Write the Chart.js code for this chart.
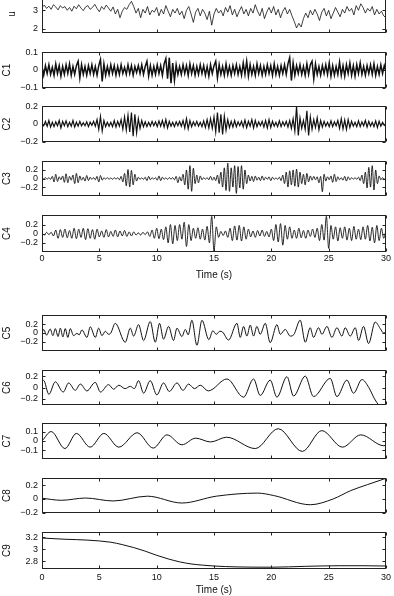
<!DOCTYPE html>
<html>
<head>
<meta charset="utf-8">
<script src="https://cdn.jsdelivr.net/npm/chart.js@4.4.1/dist/chart.umd.min.js"></script>
<style>
  body { margin:0; background:#fff; width:394px; height:596px; overflow:hidden; position:relative; }
  .panel { position:absolute; left:0; }
</style>
</head>
<body>
<script>
// DATA
const timeTicks = [0, 5, 10, 15, 20, 25, 30];

// u : raw signal, one value every 0.2 s
const uStep = 0.2;
const uVals = [
  3.15,3.28,3.10,3.22,3.05,3.30,3.18,3.02,3.25,3.12,
  3.20,3.00,3.15,2.95,3.22,3.08,3.30,3.12,2.98,3.18,
  3.25,3.05,3.15,3.32,3.10,2.92,3.20,3.05,3.28,3.12,
  2.95,3.18,2.80,3.05,2.60,2.95,3.15,3.05,3.30,3.48,
  3.20,2.85,3.10,2.60,3.05,2.85,3.20,2.75,3.00,2.90,
  3.15,2.70,3.05,2.80,3.25,2.95,2.65,3.05,2.85,3.10,
  2.75,2.95,2.55,3.00,3.20,2.80,2.35,2.90,3.10,2.70,
  3.05,2.85,2.50,2.95,2.20,2.80,3.10,2.85,3.00,2.70,
  3.15,2.90,3.25,2.75,3.05,2.65,2.95,3.20,2.80,3.05,
  2.70,3.10,2.85,3.30,2.95,2.70,3.10,2.55,2.90,3.15,
  2.85,3.20,2.75,3.05,2.60,2.95,3.15,2.80,3.05,2.70,
  2.40,2.05,2.30,2.10,2.55,2.85,2.60,3.00,2.75,3.05,
  2.80,2.45,2.90,3.10,2.70,3.00,2.55,2.85,3.15,2.90,
  2.65,3.05,2.85,3.20,2.95,3.10,2.75,3.25,3.00,3.35,
  3.15,2.85,3.10,2.95,3.20,2.75,3.05,2.80,2.95,2.70,2.60
];

// C1, C2, C3 : one value every 0.15 s
const fastStep = 0.15;
const c1Vals = [
  .02,-.03,.025,-.02,.03,-.025,.015,-.03,.035,-.02,.025,-.035,.02,-.025,.03,-.02,.035,-.03,.02,-.025,
  .025,.05,-.045,.03,-.025,.02,-.03,.025,-.02,.03,-.025,.02,-.03,.025,.06,-.065,.035,-.03,.02,-.025,
  .03,-.02,.025,-.03,.02,-.025,.03,-.02,.015,-.025,.03,-.02,.025,-.03,.02,-.015,.025,-.02,.03,-.025,
  .02,.05,-.035,.025,-.03,.02,-.025,.03,-.02,.025,-.03,.035,.065,-.05,.07,-.075,.04,-.06,.03,-.025,
  .02,-.025,.03,-.02,.025,-.03,.035,-.02,.025,-.03,.02,-.025,.03,-.02,.025,-.03,.02,-.035,.03,-.02,
  .025,.05,-.045,.03,-.025,.02,-.03,.035,-.025,.02,-.03,.025,-.02,.03,-.025,.02,-.03,.04,-.025,.05,
  -.035,.03,-.025,.02,-.03,.035,-.02,.025,-.03,.02,-.025,.03,-.02,.025,-.03,.035,-.025,.02,-.03,.025,
  -.02,.03,-.025,.035,.07,-.06,.04,-.03,.025,-.02,.03,-.025,.02,-.03,.035,-.025,.03,.05,-.05,.035,
  -.025,.02,-.03,.025,-.02,.03,-.025,.04,-.035,.025,-.03,.02,-.025,.045,-.03,.025,-.035,.03,-.02,.04,
  -.03,.025,-.035,.03,-.02,.04,-.025,.02,-.03,.025,-.02,.03,-.025,.035,-.03,.02,-.025,.03,-.02,.025,
  -.01
];
const c2Vals = [
  .01,-.02,.03,-.025,.04,-.035,.02,-.03,.025,-.02,.04,-.045,.03,-.02,.035,-.03,.02,-.025,.04,-.035,
  .02,-.025,.03,-.02,.015,-.02,.025,-.03,.02,-.015,.03,-.025,.05,-.06,.085,-.08,.04,-.03,.02,-.025,
  .02,-.03,.04,-.035,.03,-.025,.05,-.06,.08,-.07,.1,-.09,.13,-.14,.11,-.1,.06,-.05,.04,-.03,
  .025,-.03,.02,-.025,.03,-.02,.025,-.03,.035,-.025,.04,-.035,.05,-.045,.03,-.025,.02,-.03,.025,-.02,
  .03,-.025,.04,-.045,.06,-.055,.04,-.03,.025,-.02,.03,-.025,.02,-.03,.035,-.04,.05,-.045,.06,-.05,
  .08,-.09,.13,-.1,.11,-.12,.09,-.07,.05,-.04,.03,-.035,.04,-.03,.025,-.02,.03,-.035,.045,-.04,
  .03,-.025,.05,-.045,.04,-.03,.025,-.02,.03,-.035,.04,-.045,.05,-.04,.03,-.025,.02,-.03,.035,-.03,
  .025,-.02,.03,-.035,.04,-.05,.06,-.08,.2,-.13,.07,-.05,.04,-.06,.15,-.13,.08,-.06,.05,-.04,
  .07,-.065,.04,-.035,.03,-.025,.02,-.03,.035,-.03,.025,-.02,.04,-.05,.06,-.055,.045,-.06,.05,-.04,
  .03,-.025,.02,-.03,.035,-.03,.025,-.02,.04,-.035,.03,-.025,.02,-.03,.035,-.04,.03,-.025,.02,-.015,
  .01
];
const c3Vals = [
  .01,-.01,.02,-.015,.02,-.02,.05,-.08,.1,-.07,.04,-.03,.06,-.09,.11,-.1,.05,-.04,.08,-.12,
  .12,-.1,.06,-.04,.03,-.06,.07,-.05,.03,-.02,.02,-.03,.05,-.08,.07,-.04,.02,-.015,.02,-.02,
  .015,-.02,.02,-.015,.02,-.03,.05,-.08,.12,-.17,.21,-.2,.19,-.15,.1,-.06,.03,-.02,.015,-.02,
  .03,-.05,.05,-.03,.02,-.015,.02,-.04,.06,-.05,.03,-.02,.015,-.02,.02,-.015,.02,-.03,.05,-.1,
  .04,-.06,.1,-.15,.2,-.25,.3,-.3,.24,-.12,.08,-.1,.06,-.03,.02,-.015,.02,-.03,.05,-.04,
  .03,-.05,.08,-.12,.15,-.2,.25,-.28,.36,-.3,.25,-.2,.3,-.35,.28,-.22,.3,-.25,.2,-.12,
  .08,-.06,.05,-.07,.06,-.04,.03,-.05,.06,-.04,.03,-.02,.04,-.05,.03,-.02,.015,-.02,.03,-.05,
  .08,-.12,.15,-.2,.18,-.15,.2,-.18,.22,-.2,.15,-.12,.1,-.15,.12,-.08,.06,-.04,.05,-.03,
  .04,-.1,.05,-.31,.1,-.06,.04,-.03,.06,-.09,.1,-.07,.04,-.03,.02,-.04,.05,-.06,.04,-.03,
  .02,-.015,.02,-.02,.03,-.05,.08,-.12,.15,-.22,.26,-.2,.3,-.27,.2,-.12,.06,-.03,.02,-.015,
  .01
];

// C4 : one extremum every 0.2 s
const c4Step = 0.2;
const c4Vals = [
  .02,-.03,.03,-.02,.03,-.05,.08,-.1,.09,-.08,.1,-.09,.07,-.1,.12,-.11,.1,-.08,.12,-.13,
  .11,-.1,.09,-.12,.1,-.07,.06,-.08,.09,-.07,.05,-.06,.08,-.07,.06,-.05,.07,-.06,.04,-.05,
  .04,-.03,.02,-.03,.03,-.02,.04,-.06,.08,-.1,.12,-.11,.1,-.13,.15,-.2,.2,-.22,.18,-.15,
  .2,-.12,.25,-.28,.2,-.15,.12,-.1,.13,-.12,.1,-.14,.16,-.2,.38,-.38,.15,-.08,.05,-.04,
  .06,-.08,.12,-.15,.17,-.14,.18,-.16,.15,-.12,.1,-.07,.06,-.08,.07,-.05,.08,-.06,.05,-.07,
  .1,-.15,.2,-.18,.22,-.25,.18,-.12,.15,-.1,.08,-.1,.12,-.09,.07,-.1,.08,-.06,.1,-.08,
  .12,-.15,.2,-.14,.38,-.32,.18,-.12,.15,-.16,.13,-.1,.15,-.14,.12,-.15,.16,-.12,.1,-.13,
  .15,-.12,.18,-.16,.14,-.2,.18,-.15,.12,-.1,.08
];

// C5..C9 : [time, value] at turning points
const c5Pts = [
  [0,0],[0.15,0.08],[0.4,-0.05],[0.72,0.09],[0.95,-0.06],[1.16,0.1],[1.4,-0.08],[1.6,0.11],
  [1.82,-0.09],[2.03,0.1],[2.25,-0.1],[2.47,0.1],[2.75,-0.06],[3.05,-0.01],[3.25,-0.04],[3.48,0.07],
  [3.92,-0.1],[4.21,0.14],[4.65,-0.1],[4.94,0.11],[5.23,-0.06],[5.52,0.04],[5.81,-0.03],[6.0,0],
  [6.39,0.22],[7.26,-0.21],[7.7,0.11],[7.99,-0.07],[8.42,0.19],[8.86,-0.17],[9.44,0.26],[9.88,-0.21],
  [10.25,0.22],[10.6,-0.14],[11.04,0.15],[11.47,-0.17],[11.77,0.11],[12.2,-0.08],[12.5,0.08],[12.75,-0.04],
  [13.07,0.29],[13.51,-0.28],[13.95,0.29],[14.55,-0.15],[14.9,0.05],[15.2,-0.03],[15.5,0.04],[15.75,0.02],
  [16.27,-0.16],[17.0,0.22],[17.29,-0.1],[17.58,0.15],[17.87,-0.07],[18.16,0.18],[18.45,-0.07],[18.74,0.15],
  [19.03,-0.03],[19.47,0.22],[19.9,-0.22],[20.49,0.19],[20.78,-0.03],[21.21,0.08],[21.65,-0.07],[21.95,-0.04],
  [22.52,0.29],[22.96,-0.21],[23.39,0.12],[23.68,-0.1],[24.12,0.12],[24.41,-0.03],[24.85,0.15],[25.28,-0.1],
  [25.72,0.12],[26.15,-0.07],[26.44,0.12],[26.88,-0.07],[27.32,0.12],[27.61,-0.17],[28.04,0.15],[28.48,-0.24],
  [29.06,0.25],[29.5,0.1],[29.79,0],[30,0.02]
];
const c6Pts = [
  [0,0.12],[0.14,0.125],[0.6,-0.12],[1.16,0.1],[1.85,-0.08],[2.32,0.08],[2.9,-0.05],[3.34,0.06],
  [3.92,-0.06],[4.64,0.09],[5.1,-0.08],[5.8,0.05],[6.25,-0.03],[6.7,0.04],[7.25,-0.02],[7.7,0.02],
  [8.05,-0.02],[8.42,0.12],[8.86,-0.1],[9.44,0.12],[10.02,-0.13],[10.6,0.08],[11.1,-0.07],[11.77,0.08],
  [12.3,-0.05],[12.78,0.06],[13.3,-0.02],[13.8,0.04],[14.5,-0.06],[16.13,0.15],[17.58,-0.17],[18.45,0.15],
  [19.03,-0.14],[19.9,0.13],[20.49,-0.17],[21.36,0.19],[21.94,-0.15],[22.96,0.2],[23.68,-0.16],[25.14,0.16],
  [25.72,-0.16],[26.59,0.13],[27.17,-0.1],[27.9,0.14],[28.5,0],[29.0,-0.2],[29.4,-0.32],[30,-0.5]
];
const c7Pts = [
  [0,0],[0.8,0.1],[2.0,-0.08],[3.0,0.08],[4.2,-0.065],[5.4,0.08],[6.7,-0.065],[8.3,0.087],
  [9.7,-0.075],[10.9,0.065],[12.2,-0.04],[13.4,0.03],[14.7,-0.01],[16.1,0.04],[18.6,-0.08],[20.6,0.13],
  [22.7,-0.11],[24.4,0.11],[26.2,-0.065],[27.8,0.065],[29.8,-0.05],[30,-0.048]
];
const c8Pts = [
  [0,0.01],[1.7,-0.02],[3.8,0.013],[6.2,-0.03],[9.2,0.04],[12.2,-0.06],[15.2,0.04],[18.8,0.085],
  [20.2,0.05],[23.4,-0.085],[25.4,0],[26.9,0.12],[28.4,0.21],[29.8,0.29],[30,0.3]
];
const c9Pts = [
  [0,3.19],[2,3.17],[4,3.155],[6,3.12],[7,3.08],[8,3.03],[9,2.97],[10,2.9],[11,2.84],[12,2.79],
  [13,2.755],[14,2.735],[15,2.72],[17,2.705],[20,2.7],[23,2.715],[26,2.725],[28,2.725],[30,2.72]
];

// helpers to turn arrays into points
function series(vals, dt) {
  return vals.map((v, i) => ({ x: +(i * dt).toFixed(3), y: v }));
}
function pairs(list) {
  return list.map(p => ({ x: p[0], y: p[1] }));
}

// PANEL LAYOUT
const panels = [
  { label:'u',  top:-6,  bottom:34,  min:1.8,   max:3.8,   yTicks:[2,3],            pts:series(uVals, uStep),     smooth:false, lw:0.8, tpad:6 },
  { label:'C1', top:51,  bottom:89,  min:-0.1,  max:0.1,   yTicks:[-0.1,0,0.1],     pts:series(c1Vals, fastStep), smooth:false, lw:1.5, tpad:1 },
  { label:'C2', top:105, bottom:143, min:-0.2,  max:0.2,   yTicks:[-0.2,0,0.2],     pts:series(c2Vals, fastStep), smooth:false, lw:1.2, tpad:1 },
  { label:'C3', top:160, bottom:197, min:-0.4,  max:0.4,   yTicks:[-0.2,0,0.2],     pts:series(c3Vals, fastStep), smooth:true,  lw:0.9, tpad:1 },
  { label:'C4', top:214, bottom:252, min:-0.4,  max:0.4,   yTicks:[-0.2,0,0.2],     pts:series(c4Vals, c4Step),   smooth:true,  lw:0.9, tpad:1, xAxis:{h:30, pad:1} },
  { label:'C5', top:314, bottom:352, min:-0.4,  max:0.4,   yTicks:[-0.2,0,0.2],     pts:pairs(c5Pts),             smooth:true,  lw:1,   tpad:1 },
  { label:'C6', top:369, bottom:406, min:-0.3,  max:0.3,   yTicks:[-0.2,0,0.2],     pts:pairs(c6Pts),             smooth:true,  lw:1,   tpad:1 },
  { label:'C7', top:422, bottom:460, min:-0.186,max:0.186, yTicks:[-0.1,0,0.1],     pts:pairs(c7Pts),             smooth:true,  lw:1,   tpad:1 },
  { label:'C8', top:477, bottom:514, min:-0.2,  max:0.3,   yTicks:[-0.2,0,0.2],     pts:pairs(c8Pts),             smooth:true,  lw:1,   tpad:1 },
  { label:'C9', top:531, bottom:569, min:2.67,  max:3.285, yTicks:[2.8,3,3.2],      pts:pairs(c9Pts),             smooth:true,  lw:1,   tpad:1, xAxis:{h:28, pad:3} }
];

const FONT = "'Liberation Sans', Arial, Helvetica, sans-serif";
const INK = '#111';

// box + inward tick marks, matlab style
const framePlugin = {
  id: 'frame',
  afterDraw(chart) {
    const { ctx, chartArea: a, scales } = chart;
    const L = Math.round(a.left) + 0.5, R = Math.round(a.right) - 0.5;
    const T = Math.round(a.top) + 0.5, B = Math.round(a.bottom) - 0.5;
    ctx.save();
    ctx.strokeStyle = '#222';
    ctx.lineWidth = 1;
    ctx.strokeRect(L, T, R - L, B - T);
    ctx.beginPath();
    for (const t of timeTicks) {
      const x = Math.round(scales.x.getPixelForValue(t)) + 0.5;
      ctx.moveTo(x, B); ctx.lineTo(x, B - 3);
      ctx.moveTo(x, T); ctx.lineTo(x, T + 3);
    }
    for (const v of chart.options.yTickList) {
      const y = Math.round(scales.y.getPixelForValue(v)) + 0.5;
      ctx.moveTo(L, y); ctx.lineTo(L + 3, y);
      ctx.moveTo(R, y); ctx.lineTo(R - 3, y);
    }
    ctx.stroke();
    ctx.restore();
  }
};

function fmt(v) {
  const s = String(+v.toFixed(2));
  return s.replace('-', '\u2212');
}

function makePanel(p) {
  const padTop = 8;
  const xh = p.xAxis ? p.xAxis.h : 0;
  const padBottom = p.xAxis ? 2 : 8;
  const height = padTop + (p.bottom - p.top) + xh + padBottom;

  const div = document.createElement('div');
  div.className = 'panel';
  div.style.top = (p.top - padTop) + 'px';
  const can = document.createElement('canvas');
  can.width = 394; can.height = height;
  can.style.width = '394px'; can.style.height = height + 'px';
  div.appendChild(can);
  document.body.appendChild(div);

  new Chart(can.getContext('2d'), {
    type: 'line',
    data: {
      datasets: [{
        data: p.pts,
        borderColor: INK,
        borderWidth: p.lw,
        pointRadius: 0,
        fill: false,
        tension: 0,
        cubicInterpolationMode: p.smooth ? 'monotone' : 'default'
      }]
    },
    options: {
      responsive: false,
      animation: false,
      devicePixelRatio: 1,
      yTickList: p.yTicks,
      layout: { padding: { top: padTop, right: 8, bottom: padBottom, left: 0 } },
      plugins: { legend: { display: false }, tooltip: { enabled: false } },
      scales: {
        x: {
          type: 'linear', min: 0, max: 30,
          display: !!p.xAxis,
          afterBuildTicks: s => { s.ticks = timeTicks.map(v => ({ value: v })); },
          afterFit: s => { s.height = xh; },
          ticks: { font: { family: FONT, size: 9 }, color: INK, padding: p.xAxis ? p.xAxis.pad : 0, maxRotation: 0 },
          grid: { display: false, drawTicks: false },
          border: { display: false },
          title: { display: !!p.xAxis, text: 'Time (s)', font: { family: FONT, size: 10 }, color: INK, padding: { top: 0, bottom: 1 } }
        },
        y: {
          type: 'linear', min: p.min, max: p.max,
          afterBuildTicks: s => { s.ticks = p.yTicks.map(v => ({ value: v })); },
          afterFit: s => { s.width = 42; },
          ticks: { font: { family: FONT, size: 9 }, color: INK, padding: 4, callback: v => fmt(v) },
          grid: { display: false, drawTicks: false },
          border: { display: false },
          title: { display: true, text: p.label, font: { family: FONT, size: 10 }, color: INK, padding: { top: p.tpad, bottom: 0 } }
        }
      }
    },
    plugins: [framePlugin]
  });
}

panels.forEach(makePanel);
</script>
</body>
</html>
